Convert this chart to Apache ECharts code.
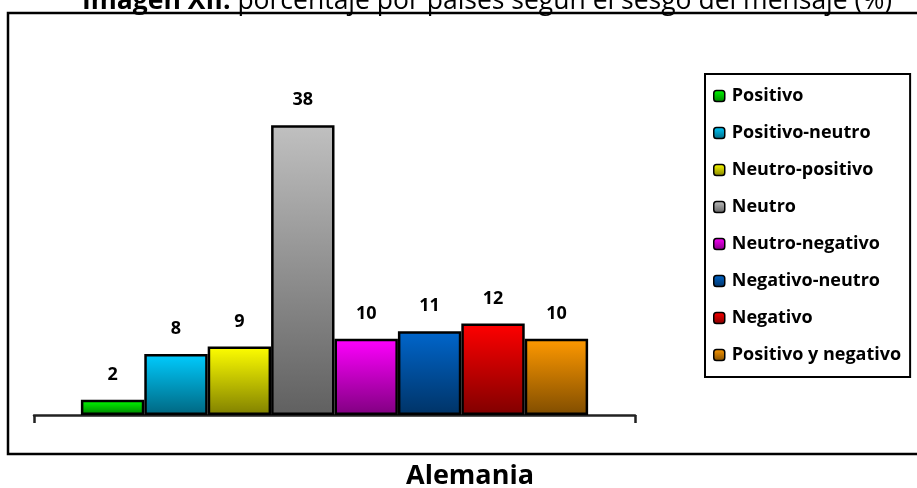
<!DOCTYPE html>
<html>
<head>
<meta charset="utf-8">
<script src="https://cdn.jsdelivr.net/npm/echarts@6/dist/echarts.min.js"></script>
<style>
  html, body { margin: 0; padding: 0; background: #fff; }
  #chart { width: 917px; height: 488px; }
</style>
</head>
<body>
<div id="chart"></div>
<script>
// Percentage of messages by bias, Germany
const categories = ['Alemania'];
const seriesNames = [
  'Positivo', 'Positivo-neutro', 'Neutro-positivo', 'Neutro',
  'Neutro-negativo', 'Negativo-neutro', 'Negativo', 'Positivo y negativo'
];
const values = [2, 8, 9, 38, 10, 11, 12, 10];
// top / bottom colours of each bar's vertical gradient
const topColors = ['#00ff00', '#00ccff', '#ffff00', '#c0c0c0', '#ff00ff', '#0066cc', '#ff0000', '#ff9900'];
const bottomColors = ['#008000', '#006680', '#808000', '#606060', '#800080', '#003366', '#800000', '#804d00'];

const FONT = '"Open Sans", Lato, sans-serif';

function grad(i) {
  return new echarts.graphic.LinearGradient(0, 0, 0, 1, [
    { offset: 0, color: topColors[i] },
    { offset: 1, color: bottomColors[i] }
  ]);
}

const series = seriesNames.map((name, i) => ({
  name: name,
  type: 'bar',
  data: [values[i]],
  barGap: '0%',
  barCategoryGap: '15.6%',
  itemStyle: { color: grad(i), borderColor: '#000', borderWidth: 2.5 },
  label: {
    show: true,
    position: 'top',
    distance: 16,
    fontFamily: FONT,
    fontWeight: 'bold',
    fontSize: 18,
    color: '#000'
  },
  emphasis: { disabled: true }
}));

const chart = echarts.init(document.getElementById('chart'), null, { renderer: 'canvas' });
chart.setOption({
  animation: false,
  backgroundColor: '#fff',
  title: {
    left: 82,
    top: -12,
    padding: 0,
    text: '{b|Imagen XII:} porcentaje por países según el sesgo del mensaje (%)',
    textStyle: {
      fontFamily: FONT,
      fontWeight: 'normal',
      fontSize: 26.5,
      color: '#000',
      rich: {
        b: { fontFamily: FONT, fontWeight: 'bold', fontSize: 26.5, color: '#000' }
      }
    }
  },
  grid: { left: 34, top: 110, width: 601, height: 305 },
  xAxis: {
    type: 'category',
    data: categories,
    axisLine: { lineStyle: { color: '#222', width: 2.5 } },
    axisTick: { show: true, length: 8, lineStyle: { color: '#222', width: 2.5 } },
    axisLabel: { show: false },
    splitLine: { show: false }
  },
  yAxis: {
    type: 'value',
    min: 0,
    max: 40,
    show: false,
    splitLine: { show: false }
  },
  legend: {
    orient: 'vertical',
    left: 705,
    top: 74,
    padding: [12, 9, 12, 8],
    itemGap: 17,
    itemWidth: 11,
    itemHeight: 11,
    borderColor: '#000',
    borderWidth: 2,
    backgroundColor: '#fff',
    itemStyle: { borderColor: '#000', borderWidth: 1.5 },
    textStyle: {
      fontFamily: FONT,
      fontWeight: 'bold',
      fontSize: 18,
      lineHeight: 20,
      color: '#000',
      padding: [0, 0, 0, 2]
    },
    data: seriesNames
  },
  graphic: [
    {
      type: 'rect',
      silent: true,
      shape: { x: 8, y: 13, width: 915, height: 441 },
      style: { fill: 'none', stroke: '#000', lineWidth: 2.5 },
      z: -1
    },
    {
      type: 'text',
      silent: true,
      style: {
        x: 470,
        y: 476,
        text: 'Alemania',
        fill: '#000',
        font: 'bold 27px ' + FONT,
        textAlign: 'center',
        textVerticalAlign: 'middle'
      }
    }
  ],
  series: series
});
</script>
</body>
</html>
